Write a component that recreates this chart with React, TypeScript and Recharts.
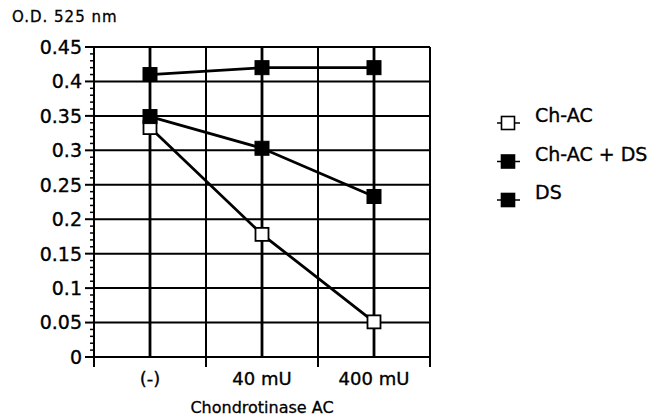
import React from 'react';
import { LineChart, Line, XAxis, YAxis, ReferenceLine, Legend } from 'recharts';

const categories = ['(-)', '40 mU', '400 mU'];
const seriesNames = ['Ch-AC', 'Ch-AC + DS', 'DS'];
const chAC = [0.333, 0.178, 0.051];
const chACDS = [0.349, 0.303, 0.233];
const ds = [0.41, 0.42, 0.42];
const yMajorTicks = [0, 0.05, 0.1, 0.15, 0.2, 0.25, 0.3, 0.35, 0.4, 0.45];
const yMinorPerMajor = 5;
const yTitle = 'O.D. 525 nm';
const xTitle = 'Chondrotinase AC';

const FONT = "'DejaVu Sans', Verdana, sans-serif";
const TEXT_STROKE = 0.35;

const data = categories.map((c, i) => ({
  x: i + 0.5,
  name: c,
  chAC: chAC[i],
  chACDS: chACDS[i],
  ds: ds[i],
}));

// all y ticks (major + minor)
const yAllTicks: number[] = [];
for (let i = 0; i < yMajorTicks.length - 1; i++) {
  for (let j = 0; j < yMinorPerMajor; j++) {
    const a = yMajorTicks[i];
    const b = yMajorTicks[i + 1];
    yAllTicks.push(Math.round((a + ((b - a) * j) / yMinorPerMajor) * 10000) / 10000);
  }
}
yAllTicks.push(yMajorTicks[yMajorTicks.length - 1]);

const xBoundaries = categories.map((_, i) => i).concat([categories.length]);
const xCenters = categories.map((_, i) => i + 0.5);
const xTicks = [...xBoundaries, ...xCenters].sort((a, b) => a - b);

const YTick = (props: any) => {
  const { x, y, payload } = props;
  const v = payload.value as number;
  const majorIdx = yMajorTicks.findIndex((m) => Math.abs(m - v) < 1e-6);
  const major = majorIdx >= 0;
  const axisX = x + 12;
  return (
    <g>
      <line
        x1={major ? axisX - 9 : axisX - 4}
        x2={axisX}
        y1={y}
        y2={y}
        stroke="#000"
        strokeWidth={major ? 2 : 1.5}
      />
      {major && (
        <text
          x={x}
          y={y}
          dy="0.36em"
          textAnchor="end"
          fontFamily={FONT}
          fontSize={19}
          fill="#000"
          stroke="#000"
          strokeWidth={TEXT_STROKE}
        >
          {String(yMajorTicks[majorIdx])}
        </text>
      )}
    </g>
  );
};

const XTick = (props: any) => {
  const { x, y, payload } = props;
  const v = payload.value as number;
  if (Number.isInteger(v)) {
    return <line x1={x} x2={x} y1={y} y2={y + 10} stroke="#000" strokeWidth={2} />;
  }
  const idx = Math.floor(v);
  return (
    <text
      x={x}
      y={y + 28}
      textAnchor="middle"
      fontFamily={FONT}
      fontSize={18}
      fill="#000"
      stroke="#000"
      strokeWidth={TEXT_STROKE}
    >
      {categories[idx]}
    </text>
  );
};

const makeDot = (open: boolean) => (p: any) => {
  const { cx, cy, index } = p;
  if (cx == null || cy == null) return <g key={index} />;
  const s = open ? 13 : 14;
  return (
    <rect
      key={index}
      x={cx - s / 2}
      y={cy - s / 2}
      width={s}
      height={s}
      fill={open ? '#fff' : '#000'}
      stroke="#000"
      strokeWidth={open ? 1.8 : 1}
    />
  );
};

const LegendContent = () => {
  const rows = seriesNames.map((n, i) => ({ name: n, open: i === 0 }));
  return (
    <svg width={165} height={120} style={{ display: 'block', overflow: 'visible' }}>
      {rows.map((r, i) => {
        const cy = 23 + i * 38.5;
        const cx = 18;
        return (
          <g key={r.name}>
            <line x1={cx - 11} x2={cx + 12} y1={cy} y2={cy} stroke="#000" strokeWidth={1.5} />
            <rect
              x={cx - 6.5}
              y={cy - 6.5}
              width={13}
              height={13}
              fill={r.open ? '#fff' : '#000'}
              stroke="#000"
              strokeWidth={1.6}
            />
            <text
              x={45}
              y={cy - 1}
              fontFamily={FONT}
              fontSize={19}
              fill="#000"
              stroke="#000"
              strokeWidth={TEXT_STROKE}
            >
              {r.name}
            </text>
          </g>
        );
      })}
    </svg>
  );
};

export default function App() {
  return (
    <div style={{ position: 'relative', width: 658, height: 418, background: '#fff' }}>
      <style>{`body{margin:0;background:#fff}`}</style>
      <LineChart
        width={658}
        height={418}
        data={data}
        margin={{ top: 47, right: 228, bottom: 31, left: 0 }}
      >
        <XAxis
          type="number"
          dataKey="x"
          domain={[0, categories.length]}
          ticks={xTicks}
          interval={0}
          tickLine={false}
          tickSize={0}
          tickMargin={0}
          tick={<XTick />}
          axisLine={{ stroke: '#000', strokeWidth: 2 }}
          height={30}
          label={{
            content: (p: any) => {
              const vb = p.viewBox || {};
              const cx = (vb.x ?? 94) + (vb.width ?? 336) / 2;
              return (
                <text
                  x={cx}
                  y={413}
                  textAnchor="middle"
                  fontFamily={FONT}
                  fontSize={16}
                  fill="#000"
                  stroke="#000"
                  strokeWidth={0.3}
                >
                  {xTitle}
                </text>
              );
            },
          }}
        />
        <YAxis
          type="number"
          domain={[0, 0.45]}
          ticks={yAllTicks}
          interval={0}
          width={94}
          tickLine={false}
          tickSize={9}
          tickMargin={3}
          tick={<YTick />}
          axisLine={{ stroke: '#000', strokeWidth: 2 }}
          label={{
            content: () => (
              <text
                x={12}
                y={22}
                fontFamily={FONT}
                fontSize={15}
                letterSpacing={1}
                fill="#000"
                stroke="#000"
                strokeWidth={0.3}
              >
                {yTitle}
              </text>
            ),
          }}
        />
        {yMajorTicks.slice(1).map((v) => (
          <ReferenceLine key={'h' + v} y={v} stroke="#000" strokeWidth={2} />
        ))}
        {xBoundaries.slice(1).map((v) => (
          <ReferenceLine key={'vb' + v} x={v} stroke="#000" strokeWidth={2} />
        ))}
        {xCenters.map((v) => (
          <ReferenceLine key={'vc' + v} x={v} stroke="#000" strokeWidth={2.8} />
        ))}
        <Line
          dataKey="chAC"
          stroke="#000"
          strokeWidth={2.8}
          dot={makeDot(true)}
          activeDot={false}
          isAnimationActive={false}
        />
        <Line
          dataKey="chACDS"
          stroke="#000"
          strokeWidth={2.8}
          dot={makeDot(false)}
          activeDot={false}
          isAnimationActive={false}
        />
        <Line
          dataKey="ds"
          stroke="#000"
          strokeWidth={2.8}
          dot={makeDot(false)}
          activeDot={false}
          isAnimationActive={false}
        />
        <Legend
          layout="vertical"
          align="center"
          verticalAlign="middle"
          content={<LegendContent />}
          wrapperStyle={{ position: 'absolute', left: 490, top: 100, width: 165, height: 120 }}
        />
      </LineChart>
    </div>
  );
}
